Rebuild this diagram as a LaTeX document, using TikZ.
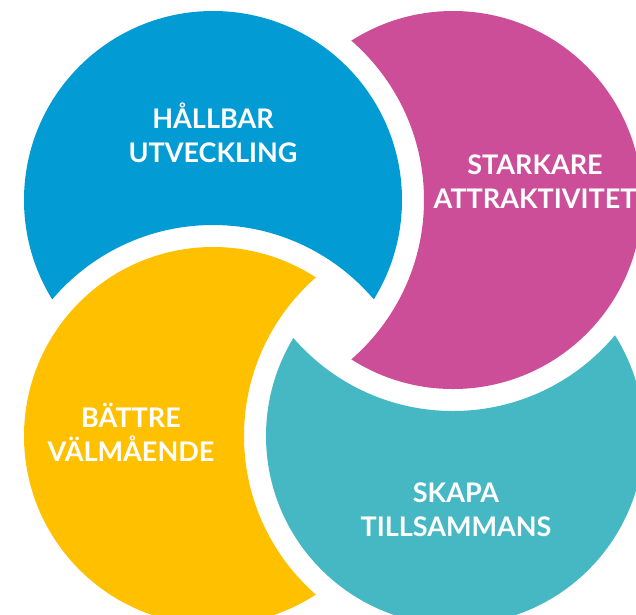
\documentclass[tikz,border=0pt]{standalone}
\usepackage{fontspec}
\setsansfont{Lato}
\usetikzlibrary{positioning}

\definecolor{hblue}{RGB}{3,155,212}
\definecolor{hpink}{RGB}{204,78,152}
\definecolor{hyellow}{RGB}{255,192,0}
\definecolor{hteal}{RGB}{69,184,196}

\begin{document}
\begin{tikzpicture} [x = 1pt, y = -1pt,
	word/.style = {text = white, align = center, inner sep = 0pt,
		font = \sffamily\bfseries\fontsize{27}{34}\selectfont}]

\clip (0,0) rectangle (636,614);

\coordinate (blue)   at (213,200);
\coordinate (pink)   at (453,200);
\coordinate (yellow) at (213,436);
\coordinate (teal)   at (455,436);

% each circle is cut by the next one, with a white gap
\foreach \c/\cut/\col in {blue/yellow/hblue, yellow/teal/hyellow,
	teal/pink/hteal, pink/blue/hpink} {
	\begin{scope}
		\clip (\c) circle [radius = 189pt];
		\fill [\col, even odd rule] (-100,-100) rectangle (800,800)
			(\cut) circle [radius = 211pt];
	\end{scope}
}

\node (hallbar)  [word] at (213,133) {HÅLLBAR\\UTVECKLING};
\node (starkare) [word] at (535,182) {STARKARE\\ATTRAKTIVITET};
\node (battre)   [word] at (131,432) {BÄTTRE\\VÄLMÅENDE};
\node (skapa)    [word] at (456,510) {SKAPA\\TILLSAMMANS};
\end{tikzpicture}
\end{document}
